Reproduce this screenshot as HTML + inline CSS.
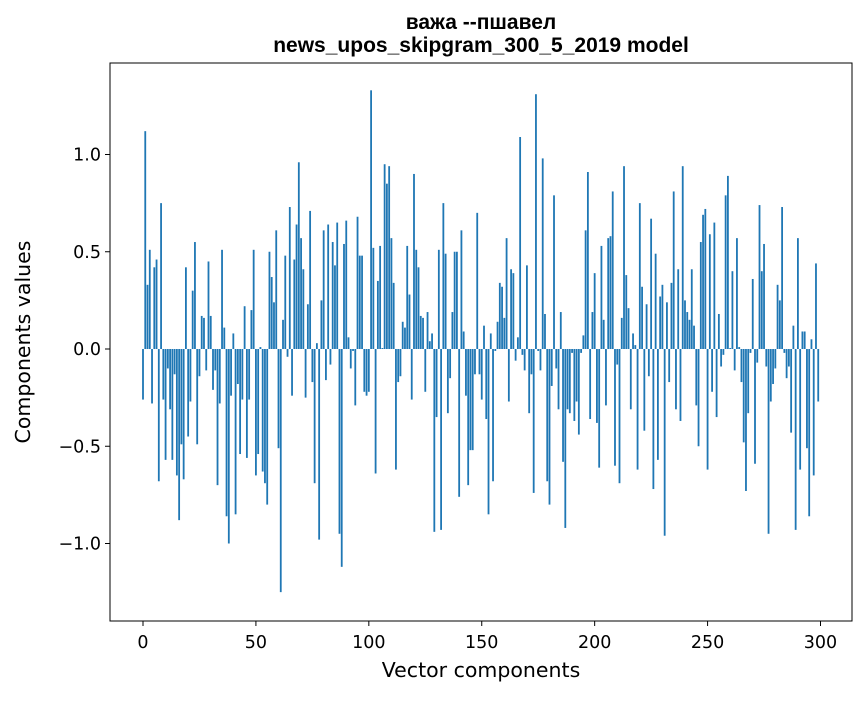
<!DOCTYPE html>
<html><head><meta charset="utf-8"><style>
body{margin:0;background:#fff;}
svg text{font-family:"DejaVu Sans","Liberation Sans",sans-serif;fill:#000;}
svg text.ttl{font-family:"Liberation Sans","DejaVu Sans",sans-serif;}
</style></head><body>
<svg id="chart" width="867" height="696" viewBox="0 0 867 696">
<text class="ttl" x="481" y="29" text-anchor="middle" font-size="21" font-weight="bold">важа --пшавел</text>
<text class="ttl" x="481" y="52" text-anchor="middle" font-size="21" font-weight="bold">news_upos_skipgram_300_5_2019 model</text>
<g id="bars"></g>
<rect x="110" y="63" width="742" height="558" fill="none" stroke="#000" stroke-width="1"/>
<g id="xaxis"></g>
<g id="yaxis"></g>
<text x="481" y="677" text-anchor="middle" font-size="20.5">Vector components</text>
<text transform="translate(30,342) rotate(-90)" text-anchor="middle" font-size="20.5">Components values</text>
</svg>
<script>
const values = [
-0.26,1.12,0.33,0.51,-0.28,0.42,0.46,-0.68,0.75,-0.26,
-0.57,-0.10,-0.31,-0.57,-0.13,-0.65,-0.88,-0.49,-0.67,0.42,
-0.45,-0.27,0.30,0.55,-0.49,-0.14,0.17,0.16,-0.11,0.45,
0.17,-0.21,-0.11,-0.70,-0.28,0.51,0.11,-0.86,-1.00,-0.24,
0.08,-0.85,-0.18,-0.54,-0.26,0.22,-0.56,-0.26,0.20,0.51,
-0.65,-0.54,0.01,-0.63,-0.69,-0.80,0.50,0.37,0.24,0.61,
-0.51,-1.25,0.15,0.48,-0.04,0.73,-0.24,0.46,0.64,0.96,
0.57,0.41,-0.25,0.23,0.71,-0.17,-0.69,0.03,-0.98,0.25,
0.61,-0.16,0.64,-0.08,0.55,0.43,0.65,-0.95,-1.12,0.54,
0.66,0.06,-0.10,-0.01,-0.29,0.68,0.48,0.48,-0.22,-0.24,
-0.22,1.33,0.52,-0.64,0.35,0.53,0.005,0.95,0.85,0.94,
0.57,0.34,-0.62,-0.17,-0.14,0.14,0.11,0.53,0.28,-0.26,
0.90,0.51,0.42,0.17,0.16,-0.22,0.19,0.04,0.08,-0.94,
-0.35,0.51,-0.93,0.75,0.49,-0.33,-0.15,0.19,0.50,0.50,
-0.76,0.61,0.09,-0.24,-0.70,-0.52,-0.52,-0.13,0.70,-0.13,
-0.26,0.12,-0.36,-0.85,0.08,-0.68,-0.01,0.14,0.34,0.32,
0.16,0.57,-0.27,0.41,0.39,-0.06,0.06,1.09,-0.03,-0.11,
0.43,-0.33,-0.13,-0.74,1.31,-0.01,-0.11,0.98,0.18,-0.68,
-0.80,-0.19,0.79,-0.10,-0.31,0.19,-0.58,-0.92,-0.31,-0.33,
-0.02,-0.37,-0.27,-0.44,-0.02,0.07,0.61,0.91,-0.36,0.19,
0.39,-0.38,-0.61,0.53,0.15,-0.29,0.57,0.58,0.81,-0.60,
-0.08,-0.69,0.16,0.94,0.38,0.21,-0.31,0.08,0.02,-0.62,
0.75,0.32,-0.42,0.23,-0.14,0.67,-0.72,0.49,-0.57,0.27,
0.33,-0.96,0.24,-0.17,0.34,0.81,-0.31,0.41,-0.37,0.94,
0.25,0.19,0.15,0.41,0.12,-0.29,-0.50,0.55,0.69,0.72,
-0.62,0.59,-0.22,0.65,-0.35,0.18,-0.09,-0.03,0.79,0.89,
0.005,0.40,-0.11,0.57,0.01,-0.17,-0.48,-0.73,-0.33,-0.02,
0.36,-0.59,-0.07,0.74,0.40,0.54,-0.09,-0.95,-0.27,-0.18,
-0.10,0.33,0.25,0.73,-0.02,-0.15,-0.09,-0.43,0.12,-0.93,
0.57,-0.62,0.09,0.09,-0.51,-0.86,0.05,-0.65,0.44,-0.27];
const xTicks = [0,50,100,150,200,250,300];
const yTicks = [-1.0,-0.5,0.0,0.5,1.0];
const yTickLabels = ["\u22121.0","\u22120.5","0.0","0.5","1.0"];

const NS="http://www.w3.org/2000/svg";
const X0=143, XS=2.2583, Y0=349, YS=194.5;
function xs(v){return X0+v*XS;}
function ys(v){return Y0-v*YS;}
const bars=document.getElementById('bars');
values.forEach((v,i)=>{
  const r=document.createElementNS(NS,'rect');
  const w=0.8*XS;
  r.setAttribute('x',xs(i)-w/2);
  r.setAttribute('width',w);
  r.setAttribute('y',Math.min(ys(v),ys(0)));
  r.setAttribute('height',Math.abs(ys(v)-ys(0)));
  r.setAttribute('fill','#1f77b4');
  
  
  bars.appendChild(r);
});
const xa=document.getElementById('xaxis');
xTicks.forEach(t=>{
  const l=document.createElementNS(NS,'line');
  l.setAttribute('x1',xs(t));l.setAttribute('x2',xs(t));
  l.setAttribute('y1',621);l.setAttribute('y2',626);
  l.setAttribute('stroke','#000');
  
  
  xa.appendChild(l);
  const tx=document.createElementNS(NS,'text');
  tx.setAttribute('x',xs(t));tx.setAttribute('y',648);
  tx.setAttribute('text-anchor','middle');tx.setAttribute('font-size','17.5');
  tx.textContent=String(t);
  
  
  xa.appendChild(tx);
});
const ya=document.getElementById('yaxis');
yTicks.forEach((t,k)=>{
  const l=document.createElementNS(NS,'line');
  l.setAttribute('x1',105);l.setAttribute('x2',110);
  l.setAttribute('y1',ys(t));l.setAttribute('y2',ys(t));
  l.setAttribute('stroke','#000');
  
  
  ya.appendChild(l);
  const tx=document.createElementNS(NS,'text');
  tx.setAttribute('x',101);tx.setAttribute('y',ys(t)+6);
  tx.setAttribute('text-anchor','end');tx.setAttribute('font-size','17.5');
  tx.textContent=yTickLabels[k];
  
  
  ya.appendChild(tx);
});
</script>
</body></html>
